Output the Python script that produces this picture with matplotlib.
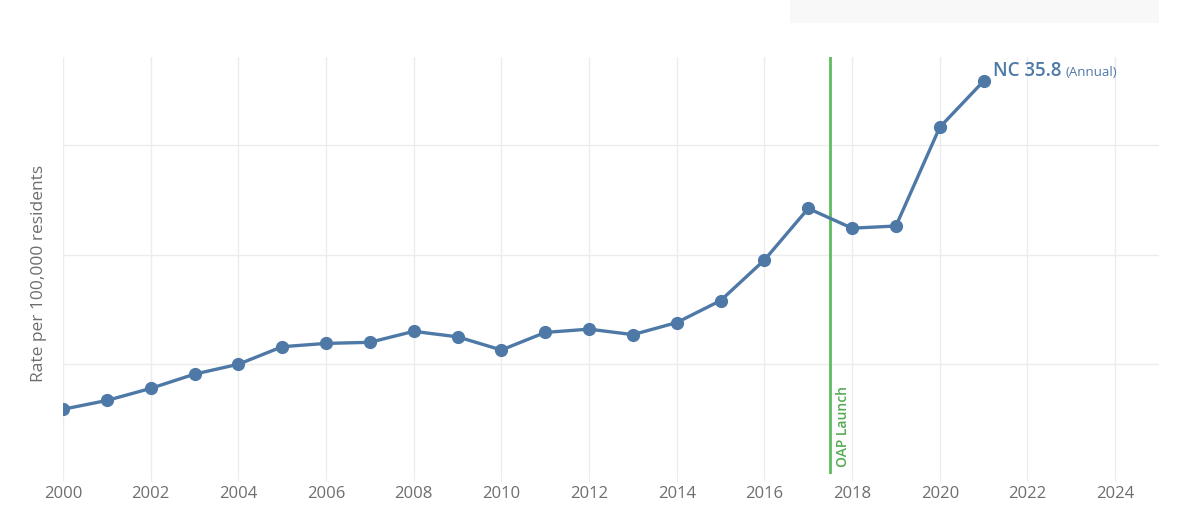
import matplotlib.pyplot as plt
from matplotlib.patches import Rectangle

# data
years = list(range(2000, 2022))
rate = [5.9, 6.7, 7.8, 9.1, 10.0, 11.6, 11.9, 12.0, 13.0, 12.5, 11.3,
        12.9, 13.2, 12.7, 13.8, 15.8, 19.5, 24.2, 22.4, 22.6, 31.6, 35.8]
oap_launch = 2017.5
xticks = list(range(2000, 2025, 2))
yticks = [10, 20, 30]

blue = '#4e79a7'
green = '#62bb5f'
green_text = '#55aa52'
grey_text = '#6e6e6e'
grid_col = '#ececec'

plt.rcParams['font.family'] = ['Open Sans', 'DejaVu Sans']

fig = plt.figure(figsize=(12, 5.23), dpi=100)
ax = fig.add_axes([0.0525, 0.0937, 0.9133, 0.7973])

# light box at the top right of the figure
fig.patches.append(Rectangle((0.658, 0.956), 0.308, 0.044, transform=fig.transFigure,
                             facecolor='#f8f8f8', edgecolor='none'))

ax.plot(years, rate, color=blue, lw=2.4, marker='o', markersize=8.5, zorder=4)
ax.axvline(oap_launch, color=green, lw=2, zorder=3)
ax.text(oap_launch + 0.13, 0.6, 'OAP Launch', rotation=90, color=green_text, fontsize=10,
        fontweight='semibold', ha='left', va='bottom')

t1 = ax.annotate(f'NC {rate[-1]}', xy=(years[-1], rate[-1]), xytext=(6.5, 0),
                 textcoords='offset points', color=blue, fontsize=13.5, fontweight='semibold',
                 ha='left', va='bottom')
ax.annotate('(Annual)', xy=(1, 0), xycoords=t1, xytext=(3, 1.5), textcoords='offset points',
            color=blue, fontsize=9.5, ha='left', va='bottom')

ax.set_xlim(2000, 2025)
ax.set_ylim(0, 38)
ax.set_xticks(xticks)
ax.set_xticklabels([str(x) for x in xticks])
ax.set_yticks(yticks)
ax.set_yticklabels([])
ax.tick_params(axis='y', length=0)
ax.tick_params(axis='x', length=5, color=grid_col, labelcolor=grey_text, labelsize=12, pad=4)
ax.grid(True, color=grid_col, lw=1)
ax.set_axisbelow(True)
for s in ax.spines.values():
    s.set_visible(False)

ax.set_ylabel('Rate per 100,000 residents', color=grey_text, fontsize=12.5)
ax.yaxis.set_label_coords(-0.0145, 0.48)

fig.savefig('out.png', dpi=100)
